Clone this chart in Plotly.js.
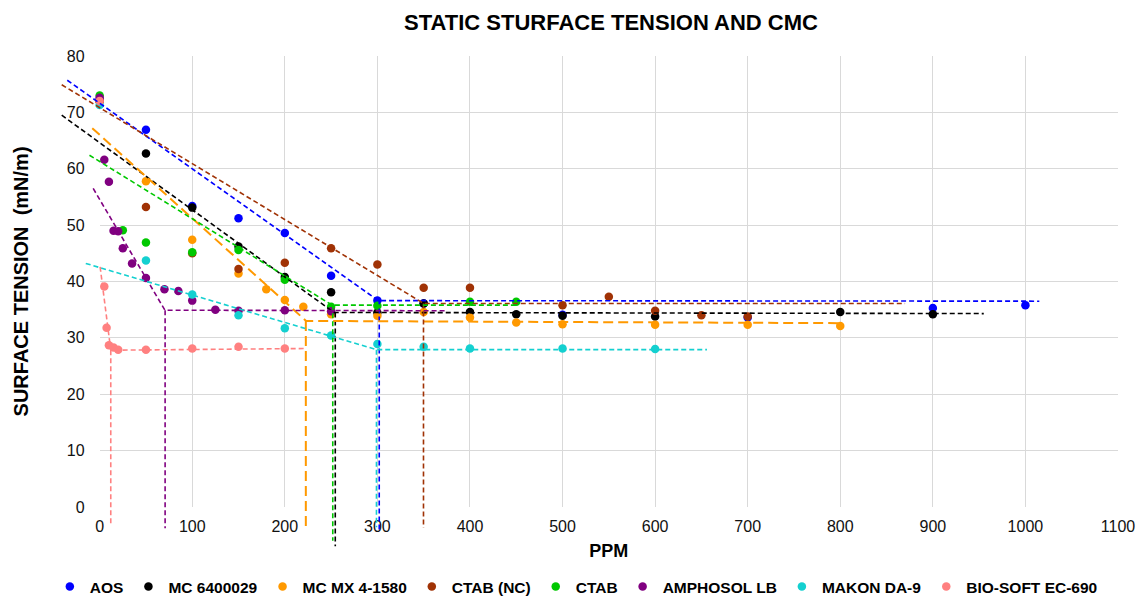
<!DOCTYPE html>
<html>
<head>
<meta charset="utf-8">
<script src="https://cdn.plot.ly/plotly-3.0.1.min.js"></script>
<style>html,body{margin:0;padding:0;background:#fff}#chart{width:1142px;height:597px}</style>
</head>
<body>
<div id="chart"></div>
<script>
// ---- series names and colours ----
const seriesNames = ['AOS', 'MC 6400029', 'MC MX 4-1580', 'CTAB (NC)', 'CTAB', 'AMPHOSOL LB', 'MAKON DA-9', 'BIO-SOFT EC-690'];
const seriesColors = ['#0000FF', '#000000', '#FF9900', '#A03205', '#00C800', '#800080', '#14D0D0', '#FF8080'];

// ---- measured points (PPM, surface tension mN/m) ----
const aosX = [0, 50, 100, 150, 200, 250, 300, 350, 500, 700, 900, 1000];
const aosY = [72.3, 66.9, 53.4, 51.2, 48.6, 41.0, 36.6, 36.1, 34.1, 33.6, 35.3, 35.8];

const mc64X = [0, 50, 100, 150, 200, 250, 300, 350, 400, 450, 500, 600, 800, 900];
const mc64Y = [72.0, 62.7, 53.1, 46.2, 40.8, 38.1, 34.5, 36.1, 34.6, 34.2, 33.9, 33.8, 34.6, 34.2];

const mcmxX = [0, 50, 100, 150, 180, 200, 220, 250, 300, 350, 400, 450, 500, 600, 700, 800];
const mcmxY = [72.0, 57.8, 47.4, 41.4, 38.6, 36.7, 35.5, 34.2, 33.9, 34.6, 33.6, 32.7, 32.4, 32.3, 32.3, 32.1];

const ctabNcX = [0, 50, 100, 150, 200, 250, 300, 350, 400, 500, 550, 600, 650, 700];
const ctabNcY = [72.0, 53.2, 45.0, 42.2, 43.3, 45.9, 43.0, 38.9, 38.9, 35.8, 37.3, 34.8, 34.0, 33.8];

const ctabX = [0, 25, 50, 100, 150, 200, 250, 300, 400, 450];
const ctabY = [73.0, 49.1, 46.9, 45.2, 45.6, 40.3, 35.5, 35.7, 36.4, 36.4];

const amphX = [0, 5, 10, 15, 20, 25, 35, 50, 70, 85, 100, 125, 150, 200, 250];
const amphY = [72.6, 61.6, 57.7, 49.0, 48.9, 45.9, 43.2, 40.6, 38.6, 38.3, 36.6, 35.0, 34.8, 34.9, 34.7];

const makonX = [0, 50, 100, 150, 200, 250, 300, 350, 400, 500, 600];
const makonY = [71.3, 43.7, 37.7, 34.0, 31.7, 30.4, 28.9, 28.4, 28.1, 28.1, 28.0];

const bioX = [0, 5, 7.5, 10, 15, 20, 50, 100, 150, 200];
const bioY = [72.0, 39.1, 31.8, 28.7, 28.3, 27.9, 27.9, 28.1, 28.4, 28.1];

// ---- CMC construction lines: [start, corner, end] and vertical CMC drop ----
const aosFitX = [-35, 301, 1015];     const aosFitY = [75.7, 36.6, 36.5];   const aosCmc = [302, -4.5];
const mc64FitX = [-41, 253, 955];     const mc64FitY = [69.5, 34.5, 34.3];  const mc64Cmc = [254.5, -7];
const mcmxFitX = [-8, 223, 800];      const mcmxFitY = [67.2, 33.0, 32.6];  const mcmxCmc = [222.7, -3.7];
const ctabNcFitX = [-41, 350, 870];   const ctabNcFitY = [74.9, 36.1, 36.1]; const ctabNcCmc = [349.8, -3.7];
const ctabFitX = [-11, 251, 450];     const ctabFitY = [62.4, 35.8, 35.8];  const ctabCmc = [251.8, -6];
const amphFitX = [-7, 70.5, 373];     const amphFitY = [56.5, 34.9, 34.8];  const amphCmc = [70.7, -3.8];
const makonFitX = [-15, 299, 656];    const makonFitY = [43.2, 27.9, 27.9]; const makonCmc = [299, -3.6];
const bioFitX = [0.5, 12, 221];       const bioFitY = [42.6, 27.8, 28.1];   const bioCmc = [12, -2.9];

// ---- axis ticks ----
const xTicks = [0, 100, 200, 300, 400, 500, 600, 700, 800, 900, 1000, 1100];
const yTicks = [0, 10, 20, 30, 40, 50, 60, 70, 80];

const points = [[aosX, aosY], [mc64X, mc64Y], [mcmxX, mcmxY], [ctabNcX, ctabNcY], [ctabX, ctabY], [amphX, amphY], [makonX, makonY], [bioX, bioY]];
const fits = [
  [aosFitX, aosFitY, aosCmc], [mc64FitX, mc64FitY, mc64Cmc], [mcmxFitX, mcmxFitY, mcmxCmc],
  [ctabNcFitX, ctabNcFitY, ctabNcCmc], [ctabFitX, ctabFitY, ctabCmc], [amphFitX, amphFitY, amphCmc],
  [makonFitX, makonFitY, makonCmc], [bioFitX, bioFitY, bioCmc]
];

const traces = [];
points.forEach((p, i) => {
  traces.push({
    type: 'scatter', mode: 'markers', name: seriesNames[i],
    x: p[0], y: p[1], xaxis: 'x', yaxis: 'y', cliponaxis: false,
    marker: {color: seriesColors[i], size: 8.5}
  });
});
fits.forEach((f, i) => {
  const fx = f[0], fy = f[1], cmc = f[2];
  traces.push({
    type: 'scatter', mode: 'lines', showlegend: false, hoverinfo: 'skip',
    x: fx.concat([null, cmc[0], cmc[0]]),
    y: fy.concat([null, fy[1], cmc[1]]),
    xaxis: 'x2', yaxis: 'y2',
    line: {color: seriesColors[i], width: i === 2 ? 2 : 1.6, dash: i === 2 ? '10px,5px' : '5px,3px'}
  });
});

const sans = 'Liberation Sans, Arial, sans-serif';

const layout = {
  width: 1142, height: 597,
  margin: {l: 58, r: 24, t: 56, b: 45, autoexpand: false},
  paper_bgcolor: '#ffffff', plot_bgcolor: 'rgba(0,0,0,0)',
  showlegend: true,
  title: {
    text: 'STATIC STURFACE TENSION AND CMC',
    font: {family: sans, size: 22, color: '#000', weight: 'bold'},
    x: 0.5217, xref: 'paper', xanchor: 'center', y: 0.963, yref: 'container', yanchor: 'middle'
  },
  xaxis: {
    domain: [45 / 1145, 1], range: [0, 1100], anchor: 'y',
    tickvals: xTicks, ticktext: xTicks.map(String),
    showgrid: true, gridcolor: '#d9d9d9', gridwidth: 1, zeroline: false, showline: false,
    ticks: '', ticklabelstandoff: 8,
    tickfont: {family: sans, size: 16, color: '#111'},
    title: {text: 'PPM', font: {family: sans, size: 18, color: '#000', weight: 'bold'}, standoff: 10}
  },
  yaxis: {
    domain: [8 / 88, 1], range: [0, 80], anchor: 'x',
    tickvals: yTicks, ticktext: yTicks.map(String),
    showgrid: true, gridcolor: '#d9d9d9', gridwidth: 1, zeroline: false, showline: false,
    ticks: '', ticklabelstandoff: 14,
    tickfont: {family: sans, size: 16, color: '#111'},
    title: {text: 'SURFACE TENSION \u00a0(mN/m)', font: {family: sans, size: 20, color: '#000', weight: 'bold'}, standoff: 32}
  },
  xaxis2: {domain: [0, 1], range: [-45, 1100], anchor: 'y2', visible: false, fixedrange: true},
  yaxis2: {domain: [0, 1], range: [-8, 80], anchor: 'x2', visible: false, fixedrange: true},
  legend: {
    orientation: 'h', x: 0.489, xanchor: 'center', y: -0.0706, yanchor: 'middle',
    font: {family: sans, size: 15.5, color: '#000', weight: 'bold'},
    bgcolor: 'rgba(0,0,0,0)', itemwidth: 30
  }
};

Plotly.newPlot('chart', traces, layout, {displayModeBar: false, responsive: false, staticPlot: true});
</script>
</body>
</html>
